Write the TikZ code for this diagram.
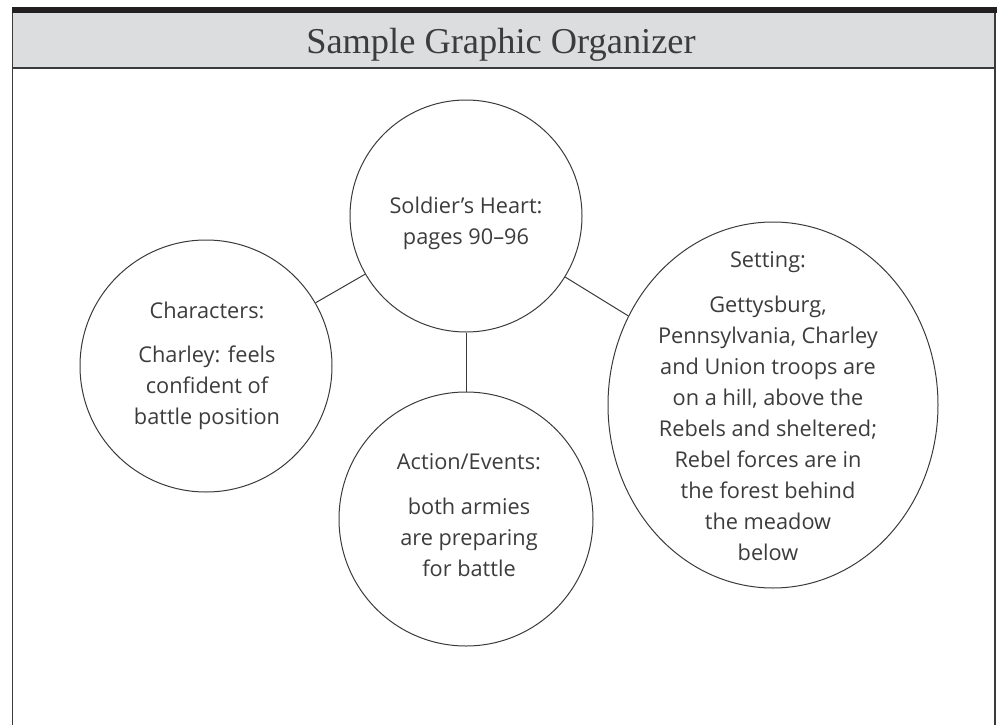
\documentclass[tikz,border=0pt]{standalone}
\usepackage{fontspec}
\usepackage{tikz}
\usetikzlibrary{shapes.geometric}
\setmainfont{Open Sans}
\newfontfamily\titlefont{Liberation Serif}
\definecolor{barblack} {HTML}{231F20}
\definecolor{headgray} {HTML}{DCDDDF}
\definecolor{rulegray} {HTML}{3A3A3A}
\definecolor{inktext}  {HTML}{3C3C3C}
\tikzset{
  bubble/.style    ={draw=rulegray, line width=0.75pt, circle, inner sep=0pt},
  oval/.style      ={draw=rulegray, line width=0.75pt, ellipse, inner sep=0pt},
  bubbletxt/.style ={align=center, text=inktext, inner sep=0pt,
                     font=\fontsize{16.3}{23.25}\selectfont},
  linkline/.style  ={draw=rulegray, line width=0.75pt},
  frameline/.style ={draw=rulegray, line width=1.1pt},
}

\begin{document}
\begin{tikzpicture}[x=0.75pt,y=-0.75pt]
    \useasboundingbox (0,0) rectangle (997,725);

    % Frame and header band
    \fill[headgray] (12.5,13) rectangle (995,68);
    \fill[barblack] (12,7) rectangle (997,13);
    \draw[frameline] (12.5,13) -- (12.5,725);
    \draw[frameline] (995,13) -- (995,725);
    \draw[frameline] (12.5,68) -- (995,68);
    \node[font=\titlefont\fontsize{27.3}{30}\selectfont,text=inktext,
          anchor=base] (title) at (501,53) {Sample Graphic Organizer};

    % Bubbles
    \node[bubble,minimum size=174pt] (hub) at (466,216) {};
    \node[bubble,minimum size=189pt] (chars) at (206,366) {};
    \node[bubble,minimum size=190.5pt] (action) at (466,519) {};
    \node[oval,minimum width=247.5pt,minimum height=274.5pt] (setting) at (773,405) {};

    \node[bubbletxt] (hubtxt) at (466,223)
      {Soldier’s Heart:\\pages 90–96};
    \node[bubbletxt] (charstxt) at (207,366)
      {Characters:\\[10pt]Charley: feels\\confident of\\battle position};
    \node[bubbletxt] (actiontxt) at (469,515)
      {Action/Events:\\[10pt]both armies\\are preparing\\for battle};
    \node[bubbletxt] (settingtxt) at (768,406)
      {Setting:\\[10pt]Gettysburg,\\Pennsylvania, Charley\\and Union troops are\\
       on a hill, above the\\Rebels and sheltered;\\Rebel forces are in\\
       the forest behind\\the meadow\\below};

    % Links
    \draw[linkline] (chars) -- (hub);
    \draw[linkline] (hub) -- (setting);
    \draw[linkline] (hub) -- (action);
\end{tikzpicture}
\end{document}
